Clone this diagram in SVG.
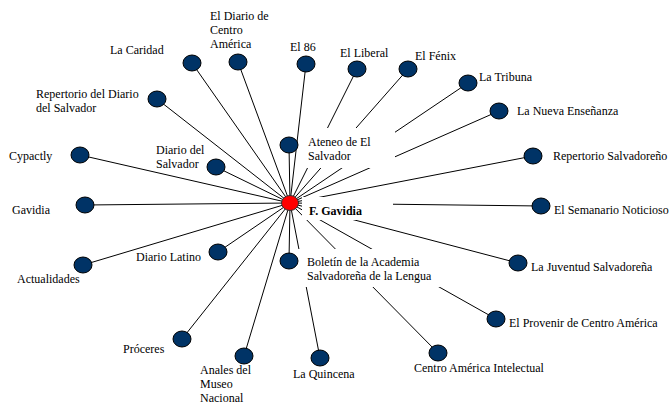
<svg xmlns="http://www.w3.org/2000/svg" width="672" height="402" viewBox="0 0 672 402">
<style>
  .ln { stroke: #000; stroke-width: 1; fill: none; }
  .nd { fill: #003366; stroke: #000; stroke-width: 1; }
  .ct { fill: #ff0000; stroke: #333; stroke-width: 1; }
  .bg { fill: #fff; stroke: none; }
  text { font-family: "Liberation Serif", "Times New Roman", serif; font-size: 12px; fill: #000; }
  .b { font-weight: bold; }
</style>
<rect width="672" height="402" fill="#fff"/>
<g id="connectors">
  <line class="ln" x1="290" y1="203" x2="192" y2="63"/>
  <line class="ln" x1="290" y1="203" x2="238" y2="62"/>
  <line class="ln" x1="290" y1="203" x2="306" y2="64"/>
  <line class="ln" x1="290" y1="203" x2="157" y2="99"/>
  <line class="ln" x1="290" y1="203" x2="357" y2="69"/>
  <line class="ln" x1="290" y1="203" x2="408" y2="69"/>
  <line class="ln" x1="290" y1="203" x2="468" y2="83"/>
  <line class="ln" x1="290" y1="203" x2="499" y2="111"/>
  <line class="ln" x1="290" y1="203" x2="80" y2="155"/>
  <line class="ln" x1="290" y1="203" x2="216" y2="167"/>
  <line class="ln" x1="290" y1="203" x2="85" y2="205"/>
  <line class="ln" x1="290" y1="203" x2="289" y2="145"/>
  <line class="ln" x1="290" y1="203" x2="533" y2="156"/>
  <line class="ln" x1="290" y1="203" x2="541" y2="206"/>
  <line class="ln" x1="290" y1="203" x2="83" y2="265"/>
  <line class="ln" x1="290" y1="203" x2="218" y2="252"/>
  <line class="ln" x1="290" y1="203" x2="289" y2="261"/>
  <line class="ln" x1="290" y1="203" x2="518" y2="263"/>
  <line class="ln" x1="290" y1="203" x2="496" y2="319"/>
  <line class="ln" x1="290" y1="203" x2="438" y2="353"/>
  <line class="ln" x1="290" y1="203" x2="182" y2="339"/>
  <line class="ln" x1="290" y1="203" x2="244" y2="356"/>
  <line class="ln" x1="290" y1="203" x2="320" y2="358"/>
</g>
<g id="n-la-caridad"><ellipse class="nd" cx="192" cy="63" rx="9" ry="8"/><text x="110" y="54">La Caridad</text></g>
<g id="n-el-diario-ca"><ellipse class="nd" cx="238" cy="62" rx="9" ry="8"/><text x="210" y="20">El Diario de</text><text x="210" y="34">Centro</text><text x="210" y="48">América</text></g>
<g id="n-el-86"><ellipse class="nd" cx="306" cy="64" rx="9" ry="8"/><text x="290" y="51">El 86</text></g>
<g id="n-repertorio-diario"><ellipse class="nd" cx="157" cy="99" rx="9" ry="8"/><text x="36" y="98">Repertorio del Diario</text><text x="36" y="112">del Salvador</text></g>
<g id="n-el-liberal"><ellipse class="nd" cx="357" cy="69" rx="9" ry="8"/><text x="340" y="57">El Liberal</text></g>
<g id="n-el-fenix"><ellipse class="nd" cx="408" cy="69" rx="9" ry="8"/><text x="415" y="60">El Fénix</text></g>
<g id="n-la-tribuna"><ellipse class="nd" cx="468" cy="83" rx="9" ry="8"/><text x="479" y="81">La Tribuna</text></g>
<g id="n-la-nueva"><ellipse class="nd" cx="499" cy="111" rx="9" ry="8"/><text x="517" y="115">La Nueva Enseñanza</text></g>
<g id="n-cypactly"><ellipse class="nd" cx="80" cy="155" rx="9" ry="8"/><text x="9" y="160">Cypactly</text></g>
<g id="n-diario-salvador"><ellipse class="nd" cx="216" cy="167" rx="9" ry="8"/><text x="156" y="154">Diario del</text><text x="156" y="168">Salvador</text></g>
<g id="n-gavidia"><ellipse class="nd" cx="85" cy="205" rx="9" ry="8"/><text x="12" y="214">Gavidia</text></g>
<g id="n-ateneo"><rect class="bg" x="300" y="128" width="95" height="40"/><ellipse class="nd" cx="289" cy="145" rx="9" ry="8"/><text x="308" y="146">Ateneo de El</text><text x="308" y="160">Salvador</text></g>
<g id="n-repertorio-salv"><ellipse class="nd" cx="533" cy="156" rx="9" ry="8"/><text x="553" y="160">Repertorio Salvadoreño</text></g>
<g id="n-semanario"><ellipse class="nd" cx="541" cy="206" rx="9" ry="8"/><text x="554" y="214">El Semanario Noticioso</text></g>
<g id="n-actualidades"><ellipse class="nd" cx="83" cy="265" rx="9" ry="8"/><text x="17" y="283">Actualidades</text></g>
<g id="n-diario-latino"><ellipse class="nd" cx="218" cy="252" rx="9" ry="8"/><text x="136" y="261">Diario Latino</text></g>
<g id="n-boletin"><rect class="bg" x="298" y="249" width="142" height="38"/><ellipse class="nd" cx="289" cy="261" rx="9" ry="8"/><text x="307" y="266">Boletín de la Academia</text><text x="307" y="280">Salvadoreña de la Lengua</text></g>
<g id="n-juventud"><ellipse class="nd" cx="518" cy="263" rx="9" ry="8"/><text x="531" y="271">La Juventud Salvadoreña</text></g>
<g id="n-provenir"><ellipse class="nd" cx="496" cy="319" rx="9" ry="8"/><text x="509" y="327">El Provenir de Centro América</text></g>
<g id="n-centro-america"><ellipse class="nd" cx="438" cy="353" rx="9" ry="8"/><text x="414" y="372">Centro América Intelectual</text></g>
<g id="n-proceres"><ellipse class="nd" cx="182" cy="339" rx="9" ry="8"/><text x="123" y="353">Próceres</text></g>
<g id="n-anales"><ellipse class="nd" cx="244" cy="356" rx="9" ry="8"/><text x="200" y="374">Anales del</text><text x="200" y="388">Museo</text><text x="200" y="402">Nacional</text></g>
<g id="n-quincena"><ellipse class="nd" cx="320" cy="358" rx="9" ry="8"/><text x="293" y="378">La Quincena</text></g>
<g id="n-f-gavidia"><rect class="bg" x="302" y="197" width="91" height="23"/><ellipse class="ct" cx="290" cy="203" rx="8.5" ry="7.5"/><text class="b" x="309" y="215">F. Gavidia</text></g>
</svg>
